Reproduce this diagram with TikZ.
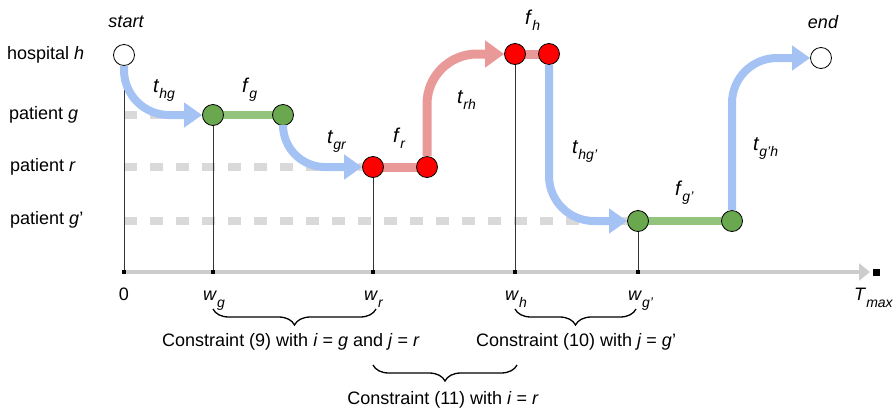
\documentclass[tikz,border=0pt]{standalone}
\usepackage{fontspec}
\setmainfont{Liberation Sans}
\usetikzlibrary{arrows.meta,decorations.pathreplacing}
\definecolor{bluea}{HTML}{A4C2F4}
\definecolor{redl}{HTML}{EA9999}
\definecolor{greenl}{HTML}{93C47D}
\definecolor{greenf}{HTML}{6AA84F}
\definecolor{redf}{HTML}{FF0000}
\definecolor{dashg}{HTML}{D9D9D9}
\definecolor{axisg}{HTML}{CCCCCC}
\definecolor{vline}{HTML}{333333}
\newcommand\labsub[3]{\textit{#1}\raisebox{-#3}{\fontsize{14}{14}\selectfont\textit{#2}}}
\begin{document}
\begin{tikzpicture}[x=1pt,y=-1pt,
  every node/.style={font=\fontsize{18}{21}\selectfont, inner sep=0pt},
  event/.style={circle, draw=black, line width=0.8pt, minimum size=21pt, inner sep=0pt},
  evwhite/.style={event, fill=white},
  evgreen/.style={event, fill=greenf},
  evred/.style={event, fill=redf},
  dashline/.style={dashg, line width=8pt, dash pattern=on 13pt off 13pt},
  thinline/.style={vline, line width=0.8pt},
  barg/.style={greenl, line width=8pt},
  barr/.style={redl, line width=9pt},
  movb/.style={bluea, line width=8pt, rounded corners=45pt, -{Triangle[length=18pt,width=24pt]}},
  movr/.style={redl, line width=9pt, rounded corners=50pt, -{Triangle[length=19pt,width=26pt]}},
  tick/.style={fill=black, minimum size=4pt, inner sep=0pt},
  biglab/.style={font=\fontsize{20}{24}\selectfont},
  bracestyle/.style={draw=black, line width=1.3pt, decorate, decoration={brace, amplitude=16pt, mirror}},
]
\useasboundingbox (0,0) rectangle (895,410);

% row labels
\node[anchor=west] (lh) at (7,55) {hospital \textit{h}};
\node[anchor=west] (lg) at (9,115) {patient \textit{g}};
\node[anchor=west] (lr) at (10,167) {patient \textit{r}};
\node[anchor=west] (lgp) at (10,220) {patient \textit{g}’};

% event nodes (positions)
\coordinate (cs) at (124,55);
\coordinate (cg1) at (213,115);
\coordinate (cg2) at (283,115);
\coordinate (cr1) at (373,167);
\coordinate (cr2) at (427,167);
\coordinate (ch1) at (515,54);
\coordinate (ch2) at (549,54);
\coordinate (cgp1) at (638,221);
\coordinate (cgp2) at (732,221);
\coordinate (ce) at (821,58);

% axis coordinates
\coordinate (t0) at (124,272);
\coordinate (tg) at (213,272);
\coordinate (tr) at (373,272);
\coordinate (th) at (515,272);
\coordinate (tgp) at (638,272);
\coordinate (tend) at (870,272);
\coordinate (dg) at (124,115);
\coordinate (dr) at (124,167);
\coordinate (dgp) at (124,221);

% dashed idle lines
\draw[dashline] (dg) -- (cg1);
\draw[dashline] (dr) -- (cr1);
\draw[dashline] (dgp) -- (cgp1);

% axis
\draw[axisg, line width=4pt, -{Triangle[length=11pt,width=17pt]}] (t0) -- (tend);
\node[fill=black, minimum size=7pt] (tmax) at (876,272) {};

% vertical lines
\draw[thinline] (cs) -- (t0);
\draw[thinline] (cg1) -- (tg);
\draw[thinline] (cr1) -- (tr);
\draw[thinline] (ch1) -- (th);
\draw[thinline] (cgp1) -- (tgp);
\foreach \p in {t0,tg,tr,th,tgp} \node[tick] at (\p) {};

% service bars
\draw[barg] (cg1) -- (cg2);
\draw[barr] (cr1) -- (cr2);
\draw[barr] (ch1) -- (ch2);
\draw[barg] (cgp1) -- (cgp2);

% nodes
\node[evwhite] (s) at (cs) {};
\node[evgreen] (g1) at (cg1) {};
\node[evgreen] (g2) at (cg2) {};
\node[evred] (r1) at (cr1) {};
\node[evred] (r2) at (cr2) {};
\node[evred] (h1) at (ch1) {};
\node[evred] (h2) at (ch2) {};
\node[evgreen] (gp1) at (cgp1) {};
\node[evgreen] (gp2) at (cgp2) {};
\node[evwhite] (e) at (ce) {};

% travel arrows
\draw[movb] (s.south) |- (g1.west);
\draw[movb, rounded corners=42pt] (g2.south) |- (r1.west);
\draw[movr] (r2.north) |- (h1.west);
\draw[movb] (h2.south) |- (gp1.west);
\draw[movb] (gp2.north) |- (e.west);

% labels
\node[font=\fontsize{18}{21}\selectfont\itshape] (lstart) at (126,22) {start};
\node[font=\fontsize{18}{21}\selectfont\itshape] (lend) at (823,22) {end};
\node[biglab, anchor=base west] (lthg) at (153,92) {\labsub{t}{hg}{6pt}};
\node[biglab, anchor=base west] (lfg) at (242,92) {\labsub{f}{g}{6pt}};
\node[biglab, anchor=base west] (ltgr) at (327,143) {\labsub{t}{gr}{6pt}};
\node[biglab, anchor=base west] (lfr) at (393,142) {\labsub{f}{r}{6pt}};
\node[biglab, anchor=base west] (ltrh) at (457,103) {\labsub{t}{rh}{6pt}};
\node[biglab, anchor=base west] (lfh) at (525,24) {\labsub{f}{h}{6pt}};
\node[biglab, anchor=base west] (lthgp) at (572,153) {\labsub{t}{hg’}{6pt}};
\node[biglab, anchor=base west] (lfgp) at (675,195) {\labsub{f}{g’}{6pt}};
\node[biglab, anchor=base west] (ltgph) at (753,150) {\labsub{t}{g’h}{6pt}};

% axis labels
\node[anchor=base] (l0) at (124,300) {0};
\node[anchor=base west] (lwg) at (203,300) {\labsub{w}{g}{7pt}};
\node[anchor=base west] (lwr) at (364,300) {\labsub{w}{r}{7pt}};
\node[anchor=base west] (lwh) at (505,300) {\labsub{w}{h}{7pt}};
\node[anchor=base west] (lwgp) at (628,300) {\labsub{w}{g’}{7pt}};
\node[anchor=base west] (ltmax) at (854,300) {\labsub{T}{max}{7pt}};

% braces
\coordinate (b1a) at (213,309);
\coordinate (b1b) at (376,309);
\coordinate (b2a) at (373,365);
\coordinate (b2b) at (517,365);
\coordinate (b3a) at (515,309);
\coordinate (b3b) at (636,309);
\draw[bracestyle] (b1a) -- (b1b);
\draw[bracestyle] (b2a) -- (b2b);
\draw[bracestyle] (b3a) -- (b3b);
\node[anchor=base] (c9) at (291,346) {Constraint (9) with \textit{i} = \textit{g} and \textit{j} = \textit{r}};
\node[anchor=base] (c10) at (576,346) {Constraint (10) with \textit{j} = \textit{g}’};
\node[anchor=base] (c11) at (443,404) {Constraint (11) with \textit{i} = \textit{r}};
\end{tikzpicture}
\end{document}
